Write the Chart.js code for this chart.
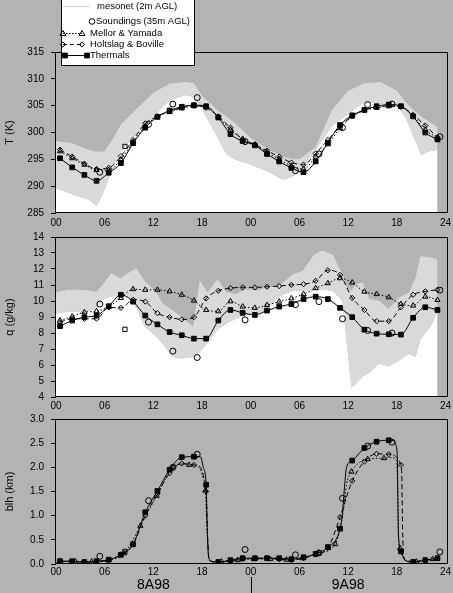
<!DOCTYPE html>
<html>
<head>
<meta charset="utf-8">
<script src="https://cdn.jsdelivr.net/npm/chart.js@4.4.1/dist/chart.umd.min.js"></script>
<style>
  html, body { margin: 0; padding: 0; background: #b3b3b3; }
  #wrap { position: relative; width: 453px; height: 593px; overflow: hidden; }
  canvas { position: absolute; left: 0; }
</style>
</head>
<body>
<div id="wrap">
  <canvas id="chartT" width="453" height="232" style="top:0"></canvas>
  <canvas id="chartQ" width="453" height="180" style="top:232px"></canvas>
  <canvas id="chartBlh" width="453" height="181" style="top:412px"></canvas>
</div>
<script>
// hours since 00 on 8A98
const hourTicks = [0, 6, 12, 18, 24, 30, 36, 42, 48];
const hourLabels = ['00', '06', '12', '18', '00', '06', '12', '18', '24'];
const dayTicks = [12, 36];
const dayLabels = ['8A98', '9A98'];

// model output, marked every 1.5 h
const modelHours = [0.5, 2, 3.5, 5, 6.5, 8, 9.5, 11, 12.5, 14, 15.5, 17, 18.5, 20, 21.5, 23,
  24.5, 26, 27.5, 29, 30.5, 32, 33.5, 35, 36.5, 38, 39.5, 41, 42.5, 44, 45.5, 47];

// temperature (K)
const tThermals = [295.2, 293.5, 292.1, 291.0, 292.5, 294.3, 298.0, 300.9, 302.9, 304.1, 304.8, 305.1, 304.9, 302.8, 299.7, 298.4,
  297.6, 296.0, 294.6, 293.4, 292.6, 294.6, 298.1, 301.4, 303.2, 304.2, 304.9, 305.2, 304.9, 303.0, 300.0, 298.7];
const tHoltslag = [296.8, 295.5, 294.2, 293.2, 293.4, 295.6, 298.6, 301.7, 303.0, 304.0, 304.6, 305.0, 304.6, 303.0, 300.9, 298.7,
  297.8, 296.6, 295.5, 294.4, 294.0, 296.1, 298.6, 301.1, 303.0, 304.2, 304.7, 305.0, 304.8, 303.3, 301.3, 299.1];
const tMellor = [296.5, 295.2, 294.0, 293.0, 293.0, 295.0, 298.2, 301.2, 303.0, 303.8, 304.5, 304.9, 304.7, 302.9, 300.5, 298.8,
  297.7, 296.3, 295.0, 293.8, 293.2, 295.5, 297.8, 300.8, 303.0, 304.1, 304.6, 304.9, 304.8, 303.0, 300.5, 299.0];

// humidity (g/kg)
const qThermals = [8.43, 8.78, 8.99, 9.09, 9.67, 10.39, 9.96, 9.09, 8.54, 8.06, 7.86, 7.65, 7.65, 8.78, 9.44, 9.26,
  9.13, 9.40, 9.65, 9.81, 10.12, 10.27, 10.12, 9.57, 8.99, 8.21, 7.96, 7.92, 7.90, 8.95, 9.61, 9.44];
const qHoltslag = [8.68, 8.89, 8.89, 8.89, 9.60, 9.57, 10.08, 9.96, 9.24, 8.99, 8.85, 8.99, 10.16, 10.64, 10.80, 10.85,
  10.85, 10.89, 10.93, 11.01, 11.05, 11.26, 11.92, 11.63, 10.19, 9.44, 8.74, 8.74, 9.61, 10.39, 10.60, 10.70];
const qMellor = [8.78, 9.03, 9.30, 9.36, 9.65, 10.19, 10.74, 10.70, 10.70, 10.60, 10.39, 10.02, 9.44, 9.36, 9.98, 9.65,
  9.57, 9.75, 9.96, 10.16, 10.43, 10.80, 11.11, 11.42, 11.15, 10.58, 10.43, 10.23, 9.81, 9.71, 10.27, 10.06];

// boundary layer height (km)
const blhThermals = [0.06, 0.06, 0.04, 0.06, 0.09, 0.19, 0.41, 1.07, 1.51, 1.95, 2.21, 2.22, 1.64, 0.04, 0.08, 0.12,
  0.12, 0.12, 0.12, 0.10, 0.14, 0.21, 0.35, 0.73, 2.14, 2.40, 2.53, 2.56, 0.26, 0.04, 0.08, 0.12];
const blhThermalsExtraHours = [17.8, 18.15, 18.65, 18.8, 19.1, 35.3, 35.55, 35.8, 41.6, 41.9, 42.05, 42.2, 43.0];
const blhThermalsExtra = [2.22, 2.0, 0.7, 0.15, 0.06, 1.05, 1.6, 2.0, 2.55, 2.45, 2.2, 0.6, 0.08];
const blhHoltslag = [0.05, 0.05, 0.04, 0.05, 0.08, 0.2, 0.4, 1.0, 1.45, 1.88, 2.08, 2.05, 1.5, 0.04, 0.07, 0.1,
  0.12, 0.12, 0.1, 0.08, 0.12, 0.2, 0.33, 0.97, 1.72, 2.12, 2.28, 2.27, 2.05, 0.05, 0.08, 0.12];
const blhHoltslagExtraHours = [17.8, 18.2, 18.7, 18.85, 19.2, 42.6, 42.72, 42.85, 43.3];
const blhHoltslagExtra = [2.0, 1.8, 0.5, 0.12, 0.05, 1.85, 0.6, 0.15, 0.05];
const mellorBlhHours = [0.4, 2.4, 4.4, 6.4, 8.4, 10.4, 12.4, 14.4, 16.4, 18.4, 20.4, 22.4,
  24.4, 26.4, 28.4, 30.4, 32.4, 34.4, 36.4, 38.4, 40.4, 42.4, 44.4, 46.4];
const blhMellor = [0.05, 0.05, 0.05, 0.08, 0.22, 0.79, 1.41, 2.0, 2.05, 1.52, 0.05, 0.08,
  0.1, 0.1, 0.09, 0.12, 0.23, 0.41, 1.91, 2.17, 2.19, 0.33, 0.05, 0.1];
const blhMellorExtraHours = [15.4, 17.6, 18.1, 18.65, 18.85, 19.3, 35.4, 35.8, 37.4, 41.4, 41.9, 42.05, 42.2, 43.0];
const blhMellorExtra = [2.07, 2.0, 1.8, 0.55, 0.12, 0.05, 1.1, 1.65, 2.1, 2.2, 2.15, 1.9, 0.55, 0.08];

// soundings (35m AGL)
const soundHours = [5.4, 8.5, 11.4, 14.4, 17.4, 23.3, 29.5, 32.4, 35.3, 38.4, 41.4, 47.3];
const soundStyles = ['circle', 'rect', 'circle', 'circle', 'circle', 'circle', 'circle', 'circle', 'circle', 'circle', 'circle', 'circle'];
const soundT = [292.6, 297.4, 301.5, 305.3, 306.5, 298.3, 292.9, 296.0, 300.9, 305.2, 305.3, 299.2];
const soundQ = [9.81, 8.23, 8.68, 6.87, 6.47, 8.82, 9.77, 9.96, 8.89, 8.16, 8.0, 10.68];
const soundBlh = [0.16, 0.26, 1.31, 2.0, 2.27, 0.30, 0.19, 0.23, 1.36, 2.44, 2.52, 0.25];

// mesonet (2m AGL) range
const tMesoHours = [0, 2, 4, 5, 6, 7, 8, 10, 12, 14, 16, 17, 18, 19, 20, 21, 22, 24, 26, 28, 29, 30, 32, 34, 36, 38, 40, 42, 43, 44, 45, 46, 47];
const tMesoMax = [298.4, 298.0, 296.8, 296.4, 296.5, 298.8, 301.5, 304.5, 307.4, 309.1, 309.4, 309.2, 306.8, 305.5, 304.0, 303.0, 301.8,
  299.0, 297.0, 295.5, 295.1, 295.0, 297.3, 304.2, 307.8, 309.2, 309.4, 307.8, 305.8, 304.3, 303.0, 302.0, 301.0];
const tMesoMin = [289.6, 288.5, 287.5, 286.3, 289.3, 293.8, 296.5, 299.8, 303.0, 306.0, 307.0, 306.6, 304.4, 301.6, 298.8, 296.0, 295.0,
  294.0, 292.8, 291.2, 291.7, 292.5, 296.8, 301.2, 303.5, 305.7, 305.4, 305.0, 303.0, 299.5, 295.8, 296.5, 296.8];
const qMesoHours = [0, 1.5, 3.5, 5, 5.8, 6.8, 7.9, 8.9, 9.9, 10.9, 12.2, 13.2, 14.4, 15.6, 16.9, 17.7, 18.7, 19.9, 21, 22.2, 23.4, 24.7,
  25.9, 27.5, 29.2, 30.4, 31.8, 32.8, 34.1, 35.3, 35.9, 36.4, 36.9, 37.8, 38.6, 39.8, 41, 42.3, 43.5, 44.3, 44.9, 46.4, 47];
const qMesoMax = [10.55, 10.7, 10.68, 10.58, 11.05, 11.75, 11.42, 11.75, 12.05, 11.26, 10.64, 9.81, 9.40, 8.99, 8.37, 11.26, 10.54, 11.36,
  10.54, 10.43, 10.74, 10.64, 10.85, 10.95, 11.67, 11.88, 12.91, 13.15, 12.91, 11.67, 10.8, 10.64, 11.05, 11.15, 10.12, 10.02, 9.51,
  10.23, 10.54, 11.46, 12.80, 12.70, 12.60];
const qMesoMin = [9.20, 9.35, 9.30, 9.5, 10.1, 10.3, 10.3, 10.23, 9.6, 8.4, 7.85, 7.3, 6.5, 6.4, 6.5, 6.8, 7.4, 8.2, 8.6, 8.9, 9.1, 9.2,
  9.4, 10.3, 10.64, 10.64, 10.7, 10.7, 10.64, 10.0, 7.0, 4.6, 4.8, 5.3, 5.5, 6.1, 5.9, 6.3, 6.7, 6.5, 7.6, 8.6, 9.4];

Chart.defaults.font.family = '"Liberation Sans", Arial, sans-serif';
Chart.defaults.color = '#000';

const NONE = 'rgba(0,0,0,0)';
const pts = (xs, ys) => xs.map((x, i) => ({ x: x, y: ys[i] }));
const merged = (xs, ys, ex, ey) => pts(xs, ys).concat(pts(ex, ey)).sort((a, b) => a.x - b.x);

const styles = {
  thermals: { borderColor: '#000', borderWidth: 1, pointStyle: 'rect', pointRadius: 3.3,
    pointBackgroundColor: '#000', pointBorderColor: '#000', cubicInterpolationMode: 'monotone' },
  holtslag: { borderColor: '#000', borderWidth: 1, borderDash: [5, 3], pointStyle: 'rectRot', pointRadius: 2.6,
    pointBackgroundColor: NONE, pointBorderColor: '#000', pointBorderWidth: 1, cubicInterpolationMode: 'monotone' },
  mellor: { borderColor: '#000', borderWidth: 1, borderDash: [1.5, 2], pointStyle: 'triangle', pointRadius: 3,
    pointBackgroundColor: NONE, pointBorderColor: '#000', pointBorderWidth: 1, cubicInterpolationMode: 'monotone' },
  sound: { showLine: false, pointStyle: soundStyles, pointRadius: 3, pointBackgroundColor: NONE,
    pointBorderColor: '#000', pointBorderWidth: 1 }
};

function series(style, data, extra) {
  return Object.assign({ data: data, order: 1 }, style, extra || {});
}

function mesoSets(xs, hi, lo) {
  return [
    { data: pts(xs, hi), fill: '+1', backgroundColor: '#d9d9d9', borderWidth: 0, borderColor: NONE, pointRadius: 0, order: 10 },
    { data: pts(xs, lo), fill: 'start', backgroundColor: '#ffffff', borderWidth: 0, borderColor: NONE, pointRadius: 0, order: 11 }
  ];
}

function hourAxis(h, pad) {
  return {
    type: 'linear', min: -0.12, max: 48.3, weight: 0,
    grid: { display: false, drawTicks: false, tickLength: 0 }, border: { display: false },
    afterBuildTicks: s => { s.ticks = hourTicks.map(v => ({ value: v })); },
    afterFit: s => { s.height = h; s.paddingLeft = 0; s.paddingRight = 0; },
    ticks: { font: { size: 10 }, padding: pad, maxRotation: 0, autoSkip: false, callback: (v, i) => hourLabels[i] }
  };
}

function valueAxis(title, min, max, step, digits) {
  return {
    min: min, max: max,
    afterFit: s => { s.width = 55; s.paddingTop = 0; s.paddingBottom = 0; },
    ticks: { stepSize: step, font: { size: 10 }, padding: 7, callback: v => v.toFixed(digits) },
    grid: { drawOnChartArea: false, drawTicks: true, tickLength: 4, color: '#000' },
    border: { display: true, color: '#000' },
    title: { display: true, text: title, font: { size: 11 }, padding: { top: 3, bottom: 0 } }
  };
}

const frame = {
  id: 'frame',
  afterDraw(chart) {
    const a = chart.chartArea, c = chart.ctx;
    c.save();
    c.strokeStyle = '#000';
    c.lineWidth = 1;
    c.strokeRect(a.left + 0.5, a.top + 0.5, a.right - a.left - 1, a.bottom - a.top - 1);
    c.restore();
  }
};

function marker(c, kind, x, y) {
  c.beginPath();
  if (kind === 'circle') c.arc(x, y, 2.8, 0, Math.PI * 2);
  else if (kind === 'triangle') { c.moveTo(x, y - 3); c.lineTo(x + 3, y + 2); c.lineTo(x - 3, y + 2); c.closePath(); }
  else if (kind === 'diamond') { c.moveTo(x, y - 2.6); c.lineTo(x + 2.6, y); c.lineTo(x, y + 2.6); c.lineTo(x - 2.6, y); c.closePath(); }
  else { c.rect(x - 2.4, y - 2.4, 4.8, 4.8); c.fill(); }
  c.stroke();
}

const legendBox = {
  id: 'legendBox',
  afterDraw(chart) {
    const c = chart.ctx;
    c.save();
    c.fillStyle = '#fff';
    c.strokeStyle = '#000';
    c.lineWidth = 1;
    c.fillRect(61, 0, 133, 65);
    c.strokeRect(61.5, -1, 133, 66.5);
    const rows = [
      { y: 6, text: 'mesonet (2m AGL)', tx: 97, line: [63, 89], color: '#d0d0d0', dash: [] },
      { y: 21, text: 'Soundings (35m AGL)', tx: 96, marks: ['circle', 92] },
      { y: 33, text: 'Mellor & Yamada', tx: 90, line: [63, 82], dash: [1.5, 1.5], marks: ['triangle', 63, 82] },
      { y: 44, text: 'Holtslag & Boville', tx: 90, line: [63, 82], dash: [4, 3], marks: ['diamond', 63, 82] },
      { y: 55, text: 'Thermals', tx: 90, line: [65, 87], dash: [], marks: ['rect', 65, 87] }
    ];
    rows.forEach(r => {
      if (r.line) {
        c.strokeStyle = r.color || '#000';
        c.setLineDash(r.dash);
        c.beginPath();
        c.moveTo(r.line[0], r.y + 0.5);
        c.lineTo(r.line[1], r.y + 0.5);
        c.stroke();
        c.setLineDash([]);
      }
      if (r.marks) {
        c.strokeStyle = '#000';
        c.fillStyle = '#000';
        r.marks.slice(1).forEach(x => marker(c, r.marks[0], x, r.y + 0.5));
      }
      c.fillStyle = '#000';
      c.font = '9.5px "Liberation Sans", Arial, sans-serif';
      c.textBaseline = 'middle';
      c.fillText(r.text, r.tx, r.y + 0.5);
    });
    c.restore();
  }
};

const daySplit = {
  id: 'daySplit',
  afterDraw(chart) {
    const c = chart.ctx;
    const x = Math.round(chart.scales.x.getPixelForValue(24)) + 0.5;
    c.save();
    c.strokeStyle = '#000';
    c.lineWidth = 1;
    c.beginPath();
    c.moveTo(x, chart.scales.x2.top + 1);
    c.lineTo(x, chart.height);
    c.stroke();
    c.restore();
  }
};

const baseOptions = (pad, x, y, extraScales) => ({
  responsive: false,
  animation: false,
  layout: { padding: { top: pad, right: 4, left: 0, bottom: 0 } },
  plugins: { legend: { display: false }, tooltip: { enabled: false } },
  scales: Object.assign({ x: x, y: y }, extraScales || {})
});

new Chart(document.getElementById('chartT'), {
  type: 'line',
  data: {
    datasets: [
      series(styles.thermals, pts(modelHours, tThermals)),
      series(styles.mellor, pts(modelHours, tMellor)),
      series(styles.holtslag, pts(modelHours, tHoltslag)),
      series(styles.sound, pts(soundHours, soundT))
    ].concat(mesoSets(tMesoHours, tMesoMax, tMesoMin))
  },
  options: baseOptions(52, hourAxis(19, 4), valueAxis('T (K)', 285, 315, 5, 0)),
  plugins: [frame, legendBox]
});

new Chart(document.getElementById('chartQ'), {
  type: 'line',
  data: {
    datasets: [
      series(styles.thermals, pts(modelHours, qThermals)),
      series(styles.mellor, pts(modelHours, qMellor)),
      series(styles.holtslag, pts(modelHours, qHoltslag)),
      series(styles.sound, pts(soundHours, soundQ))
    ].concat(mesoSets(qMesoHours, qMesoMax, qMesoMin))
  },
  options: baseOptions(4, hourAxis(15, 3), valueAxis('q (g/kg)', 4, 14, 1, 0)),
  plugins: [frame]
});

const noMarks = { pointRadius: 0 };
const marksOnly = { showLine: false };

new Chart(document.getElementById('chartBlh'), {
  type: 'line',
  data: {
    datasets: [
      series(styles.thermals, merged(modelHours, blhThermals, blhThermalsExtraHours, blhThermalsExtra), noMarks),
      series(styles.thermals, pts(modelHours, blhThermals), marksOnly),
      series(styles.mellor, merged(mellorBlhHours, blhMellor, blhMellorExtraHours, blhMellorExtra), noMarks),
      series(styles.mellor, pts(mellorBlhHours, blhMellor), marksOnly),
      series(styles.holtslag, merged(modelHours, blhHoltslag, blhHoltslagExtraHours, blhHoltslagExtra), noMarks),
      series(styles.holtslag, pts(modelHours, blhHoltslag), marksOnly),
      series(styles.sound, pts(soundHours, soundBlh))
    ]
  },
  options: baseOptions(7, hourAxis(12, 2), valueAxis('blh (km)', 0, 3, 0.5, 1), {
    x2: {
      type: 'linear', position: 'bottom', min: -0.12, max: 48.3, weight: 1,
      grid: { display: false, drawTicks: false, tickLength: 0 }, border: { display: false },
      afterBuildTicks: s => { s.ticks = dayTicks.map(v => ({ value: v })); },
      afterFit: s => { s.height = 17; s.paddingLeft = 0; s.paddingRight = 0; },
      ticks: { font: { size: 14 }, padding: 1, maxRotation: 0, autoSkip: false, callback: (v, i) => dayLabels[i] }
    }
  }),
  plugins: [frame, daySplit]
});
</script>
</body>
</html>
